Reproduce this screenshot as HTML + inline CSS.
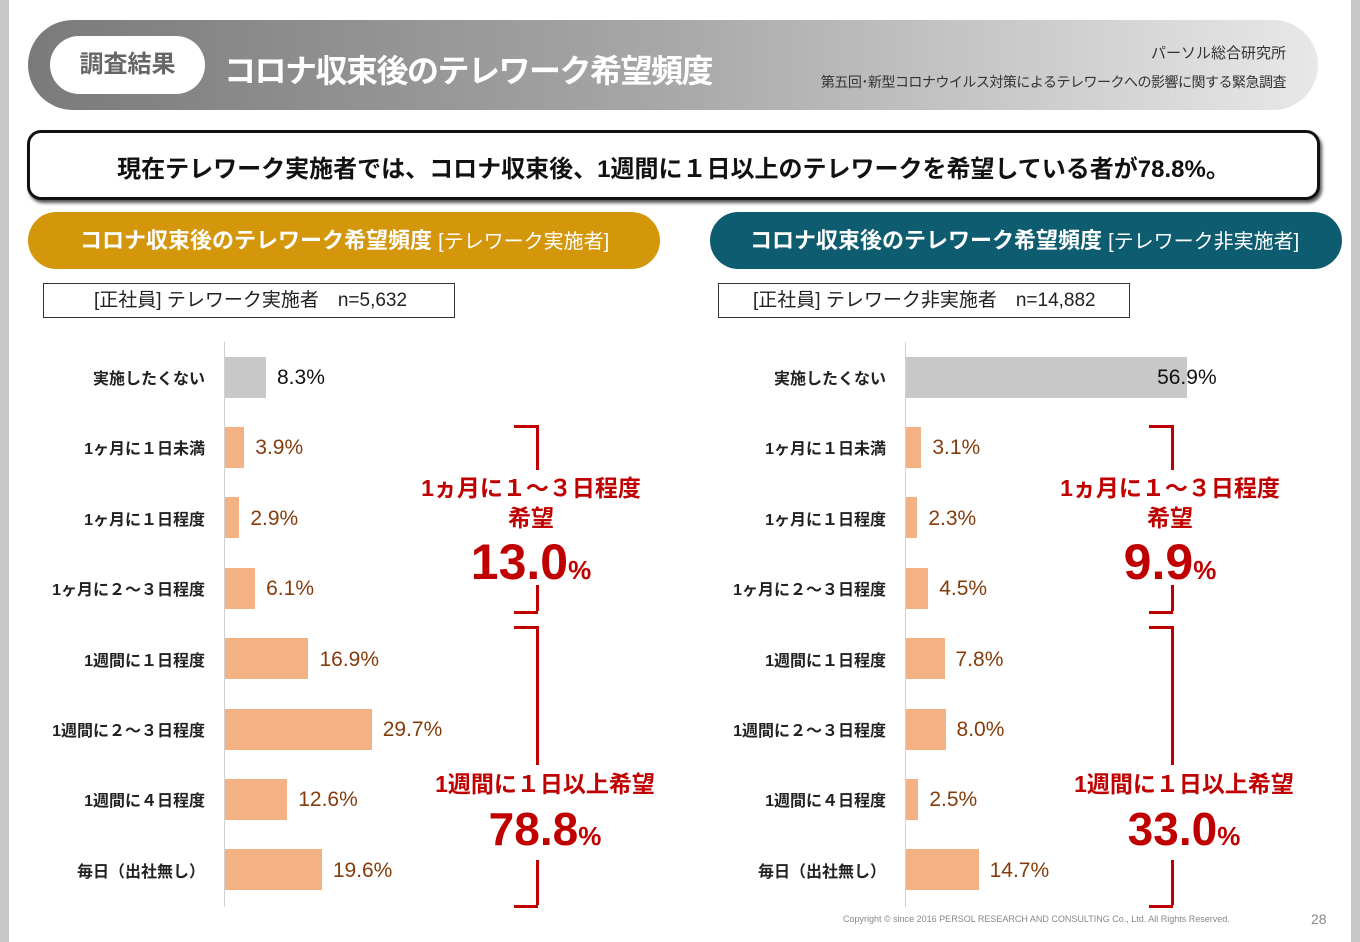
<!DOCTYPE html>
<html><head><meta charset="utf-8">
<style>
*{margin:0;padding:0;box-sizing:border-box}
body{width:1360px;height:942px;background:#fff;position:relative;overflow:hidden;font-family:"Liberation Sans","Noto Sans CJK JP",sans-serif}
.abs{position:absolute}
.lbl{position:absolute;font-size:16px;font-weight:bold;color:#222;text-align:right;white-space:nowrap}
.val{position:absolute;font-size:21px;white-space:nowrap}
.red{position:absolute;color:#c00000;font-weight:bold;white-space:nowrap;text-align:center}
</style></head><body>
<div class="abs" style="left:0;top:0;width:9px;height:942px;background:#c8c8c8"></div>
<div class="abs" style="left:1351px;top:0;width:9px;height:942px;background:#c8c8c8"></div>

<div class="abs" style="left:28px;top:20px;width:1290px;height:90px;border-radius:45px;background:linear-gradient(90deg,#7a7a7a,#a8a8a8 50%,#e8e8e8)"></div>
<div class="abs" style="left:50px;top:36px;width:155px;height:58px;border-radius:29px;background:#fff;color:#666;font-size:24px;font-weight:bold;text-align:center;line-height:58px">調査結果</div>
<div class="abs" style="left:224px;top:46px;color:#fff;font-size:32px;font-weight:bold;letter-spacing:-1.5px">コロナ収束後のテレワーク希望頻度</div>
<div class="abs" style="right:74px;top:42px;font-size:15px;color:#333">パーソル総合研究所</div>
<div class="abs" style="right:74px;top:72px;font-size:14px;color:#333;letter-spacing:-0.5px">第五回･新型コロナウイルス対策によるテレワークへの影響に関する緊急調査</div>

<div class="abs" style="left:27px;top:130px;width:1293px;height:70px;border:3px solid #111;border-radius:14px;box-shadow:2px 3px 3px #555;background:#fff;text-align:center;font-size:24px;font-weight:bold;line-height:74px;color:#111">現在テレワーク実施者では、コロナ収束後、1週間に１日以上のテレワークを希望している者が78.8%。</div>

<div class="abs" style="left:28px;top:212px;width:632px;height:57px;border-radius:29px;background:#d4960a;color:#fff;font-size:22px;font-weight:bold;line-height:57px;padding-left:52px;white-space:nowrap">コロナ収束後のテレワーク希望頻度 <span style="font-weight:normal;font-size:20px">[テレワーク実施者]</span></div>
<div class="abs" style="left:710px;top:212px;width:632px;height:57px;border-radius:29px;background:#0e5c70;color:#fff;font-size:22px;font-weight:bold;line-height:57px;padding-left:40px;white-space:nowrap">コロナ収束後のテレワーク希望頻度 <span style="font-weight:normal;font-size:20px">[テレワーク非実施者]</span></div>
<div class="abs" style="left:43px;top:283px;width:412px;height:35px;border:1.5px solid #333;font-size:19px;line-height:34px;padding-left:50px;color:#222">[正社員] テレワーク実施者　n=5,632</div>
<div class="abs" style="left:718px;top:283px;width:412px;height:35px;border:1.5px solid #333;font-size:19px;line-height:34px;padding-left:34px;color:#222">[正社員] テレワーク非実施者　n=14,882</div>

<div id="charts"></div>

<div class="abs" style="left:843px;top:914px;font-size:9px;color:#888">Copyright © since 2016  PERSOL  RESEARCH AND CONSULTING Co., Ltd. All Rights Reserved.</div>
<div class="abs" style="left:1311px;top:911px;font-size:14px;color:#888">28</div>

<script>
const categories=["実施したくない","1ヶ月に１日未満","1ヶ月に１日程度","1ヶ月に２～３日程度","1週間に１日程度","1週間に２～３日程度","1週間に４日程度","毎日（出社無し）"];
const leftValues=[8.3,3.9,2.9,6.1,16.9,29.7,12.6,19.6];
const rightValues=[56.9,3.1,2.3,4.5,7.8,8.0,2.5,14.7];
const leftMonthly="13.0";
const leftWeekly="78.8";
const rightMonthly="9.9";
const rightWeekly="33.0";

const root=document.getElementById('charts');
const PX=4.94, ROW0=377, ROWH=70.4, BARH=41;
function xs(v){return v*PX;}
function ys(i){return ROW0+i*ROWH;}
function add(html){const d=document.createElement('div');d.innerHTML=html;const e=d.firstChild;root.appendChild(e);return e;}

function drawChart(side,axisX,values,monthly,weekly,bx,cx1,cx2){
  const ax=add(`<div class="abs" style="left:${axisX-1}px;top:342px;width:1px;height:565px;background:#d0d0d0"></div>`);
  
  
  values.forEach((v,i)=>{
    const y=ys(i);
    const l=add(`<div class="lbl" style="right:${1360-axisX+20}px;top:${y-12}px">${categories[i]}</div>`);
    
    
    const b=add(`<div class="abs" style="left:${axisX}px;top:${y-BARH/2}px;width:${xs(v)}px;height:${BARH}px;background:${i==0?'#c8c8c8':'#f4b183'}"></div>`);
    
    
    const inside=i==0&&v>40;
    const t=add(`<div class="val" style="left:${inside?axisX+xs(v)-30:axisX+xs(v)+11}px;top:${y-11}px;color:${i==0?'#111':'#843c0c'}">${v.toFixed(1)}%</div>`);
    
    
  });
  const seg=(x,y,w,h)=>{const s=add(`<div class="abs" style="left:${x}px;top:${y}px;width:${w}px;height:${h}px;background:#c00000"></div>`);};
  const top1=ys(1)-BARH/2-2, bot1=ys(3)+BARH/2+2, top2=ys(4)-BARH/2-12, bot2=ys(7)+BARH/2+15;
  seg(bx-22,top1,24,3);seg(bx,top1,3,470-top1);seg(bx,585,3,bot1-585);seg(bx-22,bot1,24,3);
  seg(bx-22,top2,24,3);seg(bx,top2,3,765-top2);seg(bx,860,3,bot2-860);seg(bx-22,bot2,24,3);
  const m=add(`<div class="red" style="left:${cx1-150}px;width:300px;top:473px;font-size:23px;line-height:30px">1ヵ月に１～３日程度<br>希望</div>`);
  
  
  const mv=add(`<div class="red" style="left:${cx1-150}px;width:300px;top:533px;font-size:50px;line-height:58px">${monthly}<span style="font-size:26px">%</span></div>`);
  
  
  const w=add(`<div class="red" style="left:${cx2-150}px;width:300px;top:769px;font-size:23px;line-height:30px">1週間に１日以上希望</div>`);
  
  
  const wv=add(`<div class="red" style="left:${cx2-150}px;width:300px;top:801px;font-size:46px;line-height:56px">${weekly}<span style="font-size:26px">%</span></div>`);
  
  
}
drawChart('left',225,leftValues,leftMonthly,leftWeekly,536,531,545);
drawChart('right',906,rightValues,rightMonthly,rightWeekly,1171,1170,1184);
</script>
</body></html>
